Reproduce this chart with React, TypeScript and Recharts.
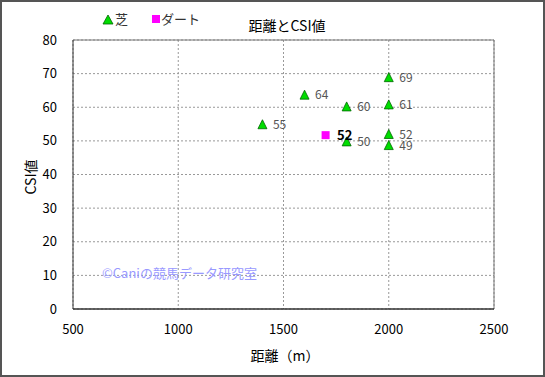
import React from 'react';
import {
  ScatterChart, Scatter, XAxis, YAxis, CartesianGrid, ReferenceLine, LabelList, Customized,
} from 'recharts';

// CSI values; labels show them rounded
const turfDistance = [1400, 1600, 1800, 1800, 2000, 2000, 2000, 2000];
const turfCsi = [54.8, 63.6, 60.1, 49.7, 68.8, 60.7, 51.9, 48.6];
const dirtDistance = [1700];
const dirtCsi = [51.7];
const xTicks = [500, 1000, 1500, 2000, 2500];
const yTicks = [0, 10, 20, 30, 40, 50, 60, 70, 80];

const turf = turfDistance.map((x, i) => ({ x, y: turfCsi[i] }));
const dirt = dirtDistance.map((x, i) => ({ x, y: dirtCsi[i] }));

const FONT = '"Noto Sans CJK JP", "Noto Sans", sans-serif';

const Triangle = (props: any) => {
  const { cx, cy } = props;
  return (
    <polygon
      points={`${cx},${cy - 5} ${cx - 4.5},${cy + 4} ${cx + 4.5},${cy + 4}`}
      fill="#00dd00"
      stroke="#006600"
      strokeWidth={0.8}
    />
  );
};

const Square = (props: any) => {
  const { cx, cy } = props;
  return <rect x={cx - 4} y={cy - 4} width={8} height={8} fill="#ff00ff" />;
};

// title, legend, axis titles and watermark
const Extras = () => (
  <g style={{ fontFamily: FONT }}>
    <polygon points="106,13 101,22 111,22" fill="#00dd00" stroke="#006600" strokeWidth={0.8} />
    <text x={113} y={22} fontSize={13} fill="#333">芝</text>
    <rect x={150} y={13} width={8} height={8} fill="#ff00ff" />
    <text x={159} y={22} fontSize={13} fill="#333">ダート</text>
    <text x={285} y={29} textAnchor="middle" fontSize={14} fill="#000">距離とCSI値</text>
    <text x={283} y={359} textAnchor="middle" fontSize={14} fill="#000">距離（m）</text>
    <text x={34} y={175} textAnchor="middle" fontSize={14} fill="#000" transform="rotate(-90 34 175)">CSI値</text>
    <text x={100} y={276} fontSize={13} fill="#9999ff">©Caniの競馬データ研究室</text>
  </g>
);

const rounded = (v: any) => Math.round(Number(v));

export default function App() {
  return (
    <div style={{ position: 'absolute', left: 0, top: 0, width: 545, height: 377, background: '#fff', border: '2px solid #555', boxSizing: 'border-box' }}>
      <ScatterChart width={541} height={373} margin={{ top: 38, right: 49, bottom: 34, left: 11 }}>
        <CartesianGrid stroke="#999" strokeDasharray="2 2" />
        <XAxis
          type="number"
          dataKey="x"
          domain={[500, 2500]}
          ticks={xTicks}
          tickLine={false}
          axisLine={{ stroke: '#333', strokeWidth: 1.5 }}
          tick={{ fill: '#000', fontSize: 13, fontFamily: FONT }}
          tickMargin={10}
          height={32}
        />
        <YAxis
          type="number"
          dataKey="y"
          domain={[0, 80]}
          ticks={yTicks}
          tickLine={false}
          axisLine={{ stroke: '#333' }}
          tick={{ fill: '#000', fontSize: 13, fontFamily: FONT }}
          tickMargin={10}
          width={60}
        />
        <ReferenceLine y={80} stroke="#777" />
        <ReferenceLine x={2500} stroke="#777" />
        <Scatter name="芝" data={turf} shape={<Triangle />} isAnimationActive={false}>
          <LabelList dataKey="y" position="right" offset={6} formatter={rounded} fill="#555" fontSize={12} fontFamily={FONT} />
        </Scatter>
        <Scatter name="ダート" data={dirt} shape={<Square />} isAnimationActive={false}>
          <LabelList dataKey="y" position="right" offset={7} formatter={rounded} fill="#000" fontSize={13} fontWeight="bold" fontFamily={FONT} />
        </Scatter>
        <Customized component={Extras} />
      </ScatterChart>
    </div>
  );
}
